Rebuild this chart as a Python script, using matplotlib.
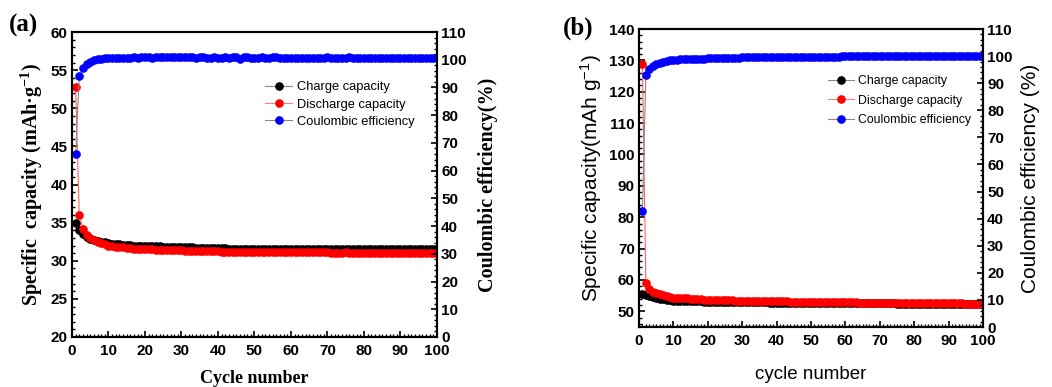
import matplotlib
matplotlib.use("Agg")
import matplotlib.pyplot as plt
from matplotlib.lines import Line2D
from matplotlib.ticker import MultipleLocator

cycles = list(range(1, 101))

# panel (a)
a_charge = [35.0, 34.0, 33.5, 33.1, 32.9, 32.7, 32.6, 32.5, 32.4, 32.3,
            32.25, 32.2, 32.15, 32.1, 32.1, 32.05, 32.0, 32.0, 32.0, 31.95,
            31.95, 31.9, 31.9, 31.9, 31.85, 31.85, 31.8, 31.8, 31.8, 31.8,
            31.75, 31.75, 31.75, 31.7, 31.7, 31.7, 31.7, 31.65, 31.65, 31.65,
            31.65, 31.65, 31.6, 31.6, 31.6, 31.6, 31.6, 31.6, 31.6, 31.6,
            31.55, 31.55, 31.55, 31.55, 31.55, 31.55, 31.55, 31.55, 31.55, 31.55,
            31.5, 31.5, 31.55, 31.5, 31.5, 31.5, 31.5, 31.5, 31.5, 31.55,
            31.5, 31.5, 31.5, 31.5, 31.5, 31.55, 31.5, 31.5, 31.5, 31.5,
            31.5, 31.5, 31.5, 31.5, 31.5, 31.5, 31.5, 31.5, 31.5, 31.5,
            31.5, 31.5, 31.5, 31.5, 31.5, 31.5, 31.5, 31.5, 31.5, 31.5]
a_discharge = [52.8, 36.0, 34.2, 33.4, 33.0, 32.7, 32.5, 32.3, 32.2, 32.0,
               31.9, 31.85, 31.8, 31.75, 31.7, 31.65, 31.6, 31.6, 31.55, 31.55,
               31.5, 31.5, 31.45, 31.45, 31.4, 31.4, 31.4, 31.35, 31.35, 31.35,
               31.3, 31.3, 31.3, 31.3, 31.25, 31.25, 31.25, 31.25, 31.25, 31.25,
               31.2, 31.2, 31.2, 31.2, 31.2, 31.2, 31.2, 31.2, 31.2, 31.2,
               31.15, 31.15, 31.15, 31.15, 31.15, 31.1, 31.15, 31.15, 31.1, 31.1,
               31.1, 31.1, 31.1, 31.1, 31.1, 31.1, 31.1, 31.1, 31.1, 31.1,
               31.05, 31.05, 31.05, 31.05, 31.1, 31.05, 31.05, 31.05, 31.05, 31.05,
               31.05, 31.05, 31.0, 31.0, 31.05, 31.0, 31.0, 31.0, 31.0, 31.0,
               31.0, 31.0, 31.0, 31.0, 31.0, 31.0, 31.0, 31.0, 31.0, 31.0]
a_ce = [66.0, 94.0, 97.0, 98.5, 99.3, 99.8, 100.1, 100.3, 100.5, 100.6,
        100.6, 100.7, 100.7, 100.8, 100.8, 100.8, 100.9, 100.8, 100.9, 100.9,
        100.9, 100.8, 100.9, 100.9, 101.0, 100.9, 100.9, 100.9, 101.0, 100.9,
        100.9, 101.0, 100.9, 100.8, 100.9, 100.9, 100.8, 100.8, 100.9, 100.8,
        100.8, 100.9, 100.8, 100.9, 101.0, 100.4, 100.9, 100.9, 100.8, 100.8,
        100.8, 100.9, 100.8, 100.8, 100.9, 100.9, 100.8, 100.8, 100.8, 100.8,
        100.8, 100.8, 100.7, 100.8, 100.8, 100.8, 100.7, 100.8, 100.8, 100.9,
        100.8, 100.7, 100.8, 100.8, 100.8, 100.9, 100.7, 100.8, 100.7, 100.7,
        100.7, 100.8, 100.7, 100.7, 100.7, 100.7, 100.7, 100.7, 100.7, 100.7,
        100.7, 100.7, 100.7, 100.7, 100.7, 100.7, 100.7, 100.7, 100.7, 100.7]

# panel (b)
b_charge = [55.5, 55.2, 54.8, 54.5, 54.2, 54.0, 53.8, 53.6, 53.5, 53.4,
            53.35, 53.3, 53.3, 53.25, 53.2, 53.2, 53.15, 53.15, 53.1, 53.1,
            53.1, 53.05, 53.05, 53.0, 53.0, 53.0, 52.95, 52.95, 52.95, 52.9,
            52.9, 52.9, 52.9, 52.85, 52.85, 52.85, 52.85, 52.8, 52.8, 52.8,
            52.8, 52.8, 52.75, 52.75, 52.75, 52.75, 52.7, 52.7, 52.7, 52.7,
            52.7, 52.7, 52.65, 52.65, 52.65, 52.65, 52.65, 52.6, 52.6, 52.6,
            52.6, 52.6, 52.6, 52.55, 52.55, 52.55, 52.55, 52.55, 52.5, 52.5,
            52.5, 52.5, 52.5, 52.5, 52.45, 52.45, 52.45, 52.45, 52.45, 52.45,
            52.4, 52.4, 52.4, 52.4, 52.4, 52.4, 52.4, 52.35, 52.35, 52.35,
            52.35, 52.35, 52.35, 52.3, 52.3, 52.3, 52.3, 52.3, 52.3, 52.3]
b_discharge = [129.0, 59.0, 57.2, 56.3, 55.8, 55.4, 55.1, 54.8, 54.6, 54.4,
               54.3, 54.2, 54.15, 54.1, 54.0, 53.95, 53.9, 53.8, 53.75, 53.7,
               53.7, 53.65, 53.6, 53.6, 53.55, 53.5, 53.5, 53.45, 53.45, 53.4,
               53.4, 53.35, 53.35, 53.3, 53.3, 53.3, 53.25, 53.25, 53.2, 53.2,
               53.2, 53.15, 53.15, 53.1, 53.1, 53.1, 53.05, 53.05, 53.0, 53.0,
               53.0, 53.0, 52.95, 52.95, 52.95, 52.9, 52.9, 52.9, 52.9, 52.85,
               52.85, 52.85, 52.85, 52.8, 52.8, 52.8, 52.8, 52.8, 52.75, 52.75,
               52.75, 52.75, 52.7, 52.7, 52.7, 52.7, 52.7, 52.65, 52.65, 52.65,
               52.65, 52.6, 52.6, 52.6, 52.6, 52.6, 52.55, 52.55, 52.55, 52.55,
               52.5, 52.5, 52.5, 52.5, 52.45, 52.45, 52.45, 52.4, 52.4, 52.4]
b_ce = [43.0, 93.0, 95.3, 96.3, 97.0, 97.5, 97.9, 98.2, 98.4, 98.6,
        98.7, 98.8, 98.9, 98.9, 99.0, 99.0, 99.1, 99.1, 99.1, 99.2,
        99.2, 99.2, 99.3, 99.3, 99.3, 99.3, 99.4, 99.4, 99.4, 99.5,
        99.5, 99.5, 99.5, 99.5, 99.6, 99.6, 99.6, 99.6, 99.6, 99.6,
        99.7, 99.7, 99.7, 99.7, 99.7, 99.7, 99.7, 99.7, 99.8, 99.8,
        99.8, 99.8, 99.8, 99.8, 99.8, 99.8, 99.8, 99.8, 99.9, 99.9,
        99.9, 99.9, 99.9, 99.9, 99.9, 99.9, 99.9, 99.9, 99.9, 99.9,
        99.9, 100.0, 100.0, 100.0, 100.0, 100.0, 100.0, 100.0, 100.0, 100.0,
        100.0, 100.0, 100.0, 100.0, 100.0, 100.0, 100.0, 100.0, 100.0, 100.0,
        100.0, 100.0, 100.0, 100.0, 100.0, 100.0, 100.0, 100.0, 100.0, 100.0]

legend_labels = ["Charge capacity", "Discharge capacity", "Coulombic efficiency"]

SANS = "Liberation Sans"
SERIF = "Liberation Serif"
MS = 5.2


def panel(rect, charge, discharge, ce, ylim, ymajor, yminor, ylabel, y2label,
          xlabel, label_font, label_weight, xsize, ysize, xpad, y2pad,
          leg_anchor, leg_size, leg_space):
    ax = fig.add_axes(rect)
    ax2 = ax.twinx()
    ax.plot(cycles, charge, color="#888888", lw=0.8, marker="o", ms=MS,
            mfc="black", mec="black", zorder=3)
    ax.plot(cycles, discharge, color="#ff6060", lw=0.8, marker="o", ms=MS,
            mfc="red", mec="red", zorder=4)
    ax2.plot(cycles, ce, color="#888888", lw=0.8, marker="o", ms=MS,
             mfc="blue", mec="blue")

    ax.set_xlim(0, 100)
    ax.set_ylim(*ylim)
    ax2.set_ylim(0, 110)
    ax.xaxis.set_major_locator(MultipleLocator(10))
    ax.xaxis.set_minor_locator(MultipleLocator(1))
    ax.yaxis.set_major_locator(MultipleLocator(ymajor))
    ax.yaxis.set_minor_locator(MultipleLocator(yminor))
    ax2.yaxis.set_major_locator(MultipleLocator(10))
    ax2.yaxis.set_minor_locator(MultipleLocator(2))

    for a in (ax, ax2):
        a.tick_params(which="major", direction="in", length=4, width=1.2,
                      labelsize=11, pad=3)
        a.tick_params(which="minor", direction="in", length=2, width=1)
        for s in a.spines.values():
            s.set_linewidth(1.5)
        for t in a.get_xticklabels() + a.get_yticklabels():
            t.set_fontfamily(SANS)
            t.set_fontweight("bold")
    ax.tick_params(axis="x", which="major", pad=5)

    ax.set_xlabel(xlabel, fontfamily=label_font, fontweight=label_weight,
                  fontsize=xsize, labelpad=xpad)
    ax.set_ylabel(ylabel, fontfamily=label_font, fontweight=label_weight,
                  fontsize=ysize, labelpad=4)
    ax2.set_ylabel(y2label, fontfamily=label_font, fontweight=label_weight,
                   fontsize=ysize, labelpad=y2pad)

    handles = [
        Line2D([], [], color="#888888", lw=0.8, marker="o", ms=MS, mfc="black", mec="black"),
        Line2D([], [], color="#ff8080", lw=0.8, marker="o", ms=MS, mfc="red", mec="red"),
        Line2D([], [], color="#888888", lw=0.8, marker="o", ms=MS, mfc="blue", mec="blue"),
    ]
    ax2.legend(handles, legend_labels, loc="upper left",
               bbox_to_anchor=leg_anchor, frameon=False, borderpad=0,
               borderaxespad=0, handlelength=2.1, handletextpad=0.4,
               labelspacing=leg_space, prop={"family": SANS, "size": leg_size})
    return ax, ax2


fig = plt.figure(figsize=(10.52, 3.87), dpi=100)

panel([0.0684, 0.1292, 0.347, 0.788], a_charge, a_discharge, a_ce,
      (20, 60), 5, 1, "Specific  capacity (mAh\u00b7g$\\mathregular{^{-1}}$)",
      "Coulombic efficiency(%)", "Cycle number", SERIF, "bold",
      13, 14.5, 9, 8, (0.529, 0.838), 9.3, 0.4)
fig.text(0.008, 0.935, "(a)", fontfamily=SERIF, fontweight="bold",
         fontsize=18, va="center")

panel([0.6074, 0.155, 0.327, 0.770], b_charge, b_discharge, b_ce,
      (45, 140), 10, 2, "Specific capacity(mAh g$\\mathregular{^{-1}}$)",
      "Coulombic efficiency (%)", "cycle number", SANS, "normal",
      13.5, 15, 13, 6, (0.549, 0.845), 8.8, 0.6)
fig.text(0.535, 0.927, "(b)", fontfamily=SERIF, fontweight="bold",
         fontsize=18, va="center")

fig.savefig("out.png", dpi=100)
